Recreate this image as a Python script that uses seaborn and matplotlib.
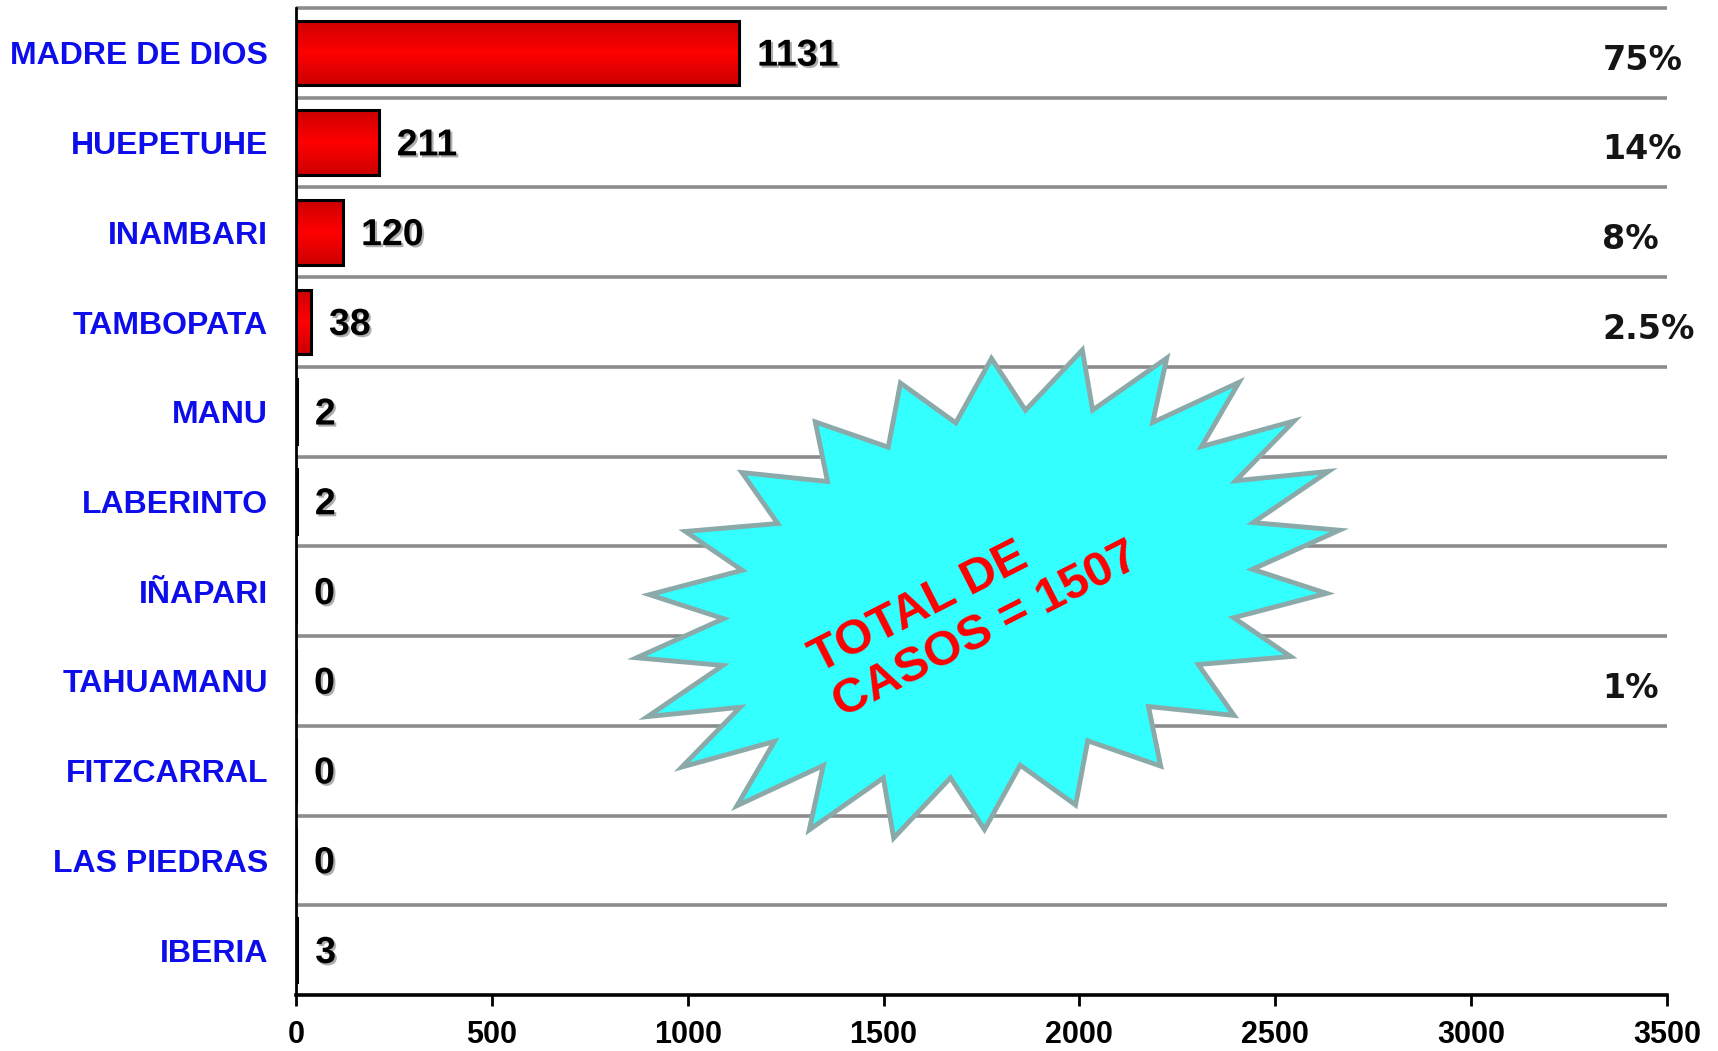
import numpy as np
import pandas as pd
import matplotlib
matplotlib.use("Agg")
import matplotlib.pyplot as plt
import matplotlib.patheffects as pe
from matplotlib.patches import Polygon
from matplotlib.colors import LinearSegmentedColormap
import seaborn as sns

# Cases per district
districts = ["MADRE DE DIOS", "HUEPETUHE", "INAMBARI", "TAMBOPATA", "MANU",
             "LABERINTO", "IÑAPARI", "TAHUAMANU", "FITZCARRAL", "LAS PIEDRAS",
             "IBERIA"]
cases = [1131, 211, 120, 38, 2, 2, 0, 0, 0, 0, 3]
shares = ["75%", "14%", "8%", "2.5%", "", "", "", "1%", "", "", ""]
x_ticks = [0, 500, 1000, 1500, 2000, 2500, 3000, 3500]
total_label = "TOTAL DE\nCASOS = 1507"

sns.set_theme(style="white")
plt.rcParams["font.family"] = ["Liberation Sans", "DejaVu Sans"]
NARROW = ["Liberation Sans Narrow", "Liberation Sans", "DejaVu Sans"]

W, H = 1718, 1051
fig = plt.figure(figsize=(W / 100, H / 100), dpi=100)
fig.patch.set_facecolor("white")
ax = fig.add_axes([296 / W, 1 - 995 / H, (1667 - 296) / W, (995 - 8) / H])
ax.set_facecolor("white")

df = pd.DataFrame({"distrito": districts, "casos": cases})
sns.barplot(data=df, x="casos", y="distrito", orient="h", color="#FF0000",
            saturation=1, edgecolor="black", linewidth=2.2, width=0.72,
            ax=ax, zorder=3)

# shaded fill for each bar, clipped to its rectangle
shade = np.concatenate([np.linspace(0, 1, 60), np.linspace(1, 0, 60)]).reshape(-1, 1)
bar_cmap = LinearSegmentedColormap.from_list("bar", ["#CC0000", "#FF0000"])
for p in list(ax.patches):
    x0, y0, w, h = p.get_x(), p.get_y(), p.get_width(), p.get_height()
    if w > 0:
        im = ax.imshow(shade, cmap=bar_cmap, extent=(x0, x0 + w, y0 + h, y0),
                       aspect="auto", interpolation="bilinear", zorder=3.5)
        im.set_clip_path(p)
    p.set_facecolor("none")
    p.set_zorder(4)

n = len(districts)
ax.set_xlim(0, 3500)
ax.set_ylim(n - 0.5, -0.5)

# band separators
ax.hlines(np.arange(-0.5, n - 1, 1.0), 0, 3500, color="#8C8C8C", lw=2.6,
          zorder=1, clip_on=False)

for side in ("top", "right"):
    ax.spines[side].set_visible(False)
ax.spines["left"].set_color("black")
ax.spines["left"].set_linewidth(2)
ax.spines["bottom"].set_color("black")
ax.spines["bottom"].set_linewidth(2.6)

ax.set_xticks(x_ticks, labels=[str(t) for t in x_ticks], fontsize=22,
              fontweight="bold", family=NARROW, color="black")
ax.tick_params(axis="x", direction="out", length=8, width=2, color="black",
               pad=10, bottom=True)
ax.set_yticks(range(n), labels=districts, fontsize=23, fontweight="bold",
              color="#0D0DEB")
ax.tick_params(axis="y", length=0, pad=20)
ax.set_xlabel("")
ax.set_ylabel("")

shadow = [pe.withSimplePatchShadow(offset=(1.5, -1.5), shadow_rgbFace="#777777", alpha=0.6)]
for i, v in enumerate(cases):
    ax.annotate(f"{v}", xy=(v, i), xytext=(13, -2), textcoords="offset points",
                ha="left", va="center", fontsize=27, fontweight="bold",
                family=NARROW, color="black", path_effects=shadow, zorder=6)

for i, s in enumerate(shares):
    if s:
        ax.text(3335, i + 0.08, s, ha="left", va="center", fontsize=24,
                fontweight="bold", family="DejaVu Sans", color="#151515",
                clip_on=False, zorder=6)

# starburst callout
n_spikes = 24
t = np.linspace(0, 2 * np.pi, 2 * n_spikes, endpoint=False) + 0.05
r = np.where(np.arange(2 * n_spikes) % 2 == 0, 1.0, 0.76)
a, b = 362, 228
ang = np.deg2rad(18)
ex, ey = a * r * np.cos(t), b * r * np.sin(t)
px = 988 + ex * np.cos(ang) - ey * np.sin(ang)
py = (H - 594) + ex * np.sin(ang) + ey * np.cos(ang)
star = Polygon(np.column_stack([px / W, py / H]), closed=True,
               transform=fig.transFigure, facecolor="#33FFFF",
               edgecolor="#8BA9A9", lw=3.5, zorder=5, clip_on=False)
ax.add_patch(star)

fig.text(975 / W, 1 - 608 / H, total_label, rotation=27, rotation_mode="anchor",
         ha="center", va="center", multialignment="left", color="#FF0000",
         fontsize=35, fontweight="bold", linespacing=1.15, zorder=7)

fig.savefig("out.png", dpi=100, facecolor="white")
